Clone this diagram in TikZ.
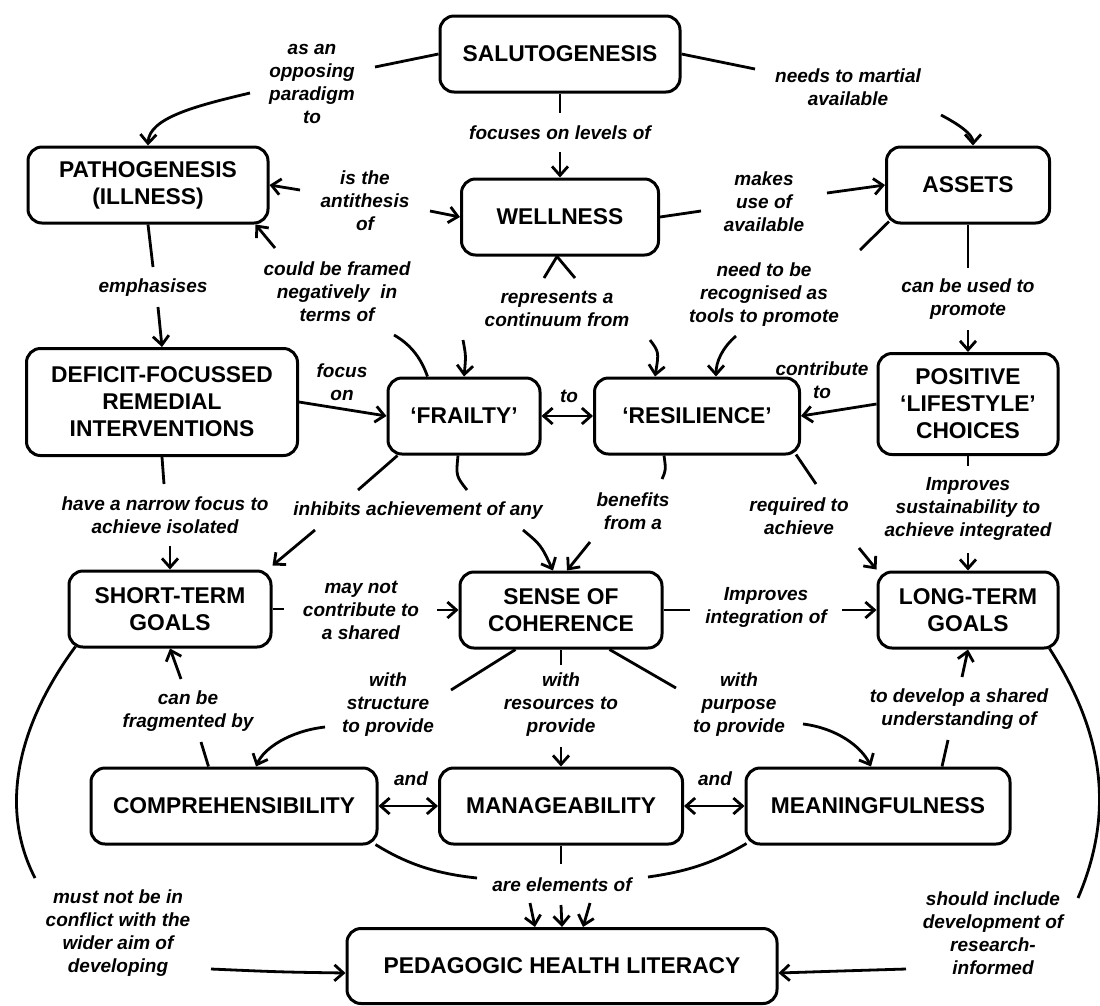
\documentclass[tikz,border=0pt]{standalone}
\usepackage{fontspec}
\setmainfont{Liberation Sans}
\usetikzlibrary{arrows.meta}
\begin{document}
\begin{tikzpicture}[x=1pt,y=-1pt,
  box/.style={draw, line width=3pt, rounded corners=14pt, align=center, inner sep=0pt,
    font=\bfseries\fontsize{22.8}{27}\selectfont, minimum height=76pt},
  lab/.style={align=center, inner sep=0pt, font=\bfseries\itshape\fontsize{19}{23}\selectfont},
  con/.style={line width=2.8pt},
  arr/.style={con, -{Straight Barb[length=9pt,width=16pt]}},
  darr/.style={con, {Straight Barb[length=9pt,width=16pt]}-{Straight Barb[length=9pt,width=16pt]}}
]
\useasboundingbox (0,0) rectangle (1100,1005);
% ---------- concept boxes ----------
\node[box, minimum width=240pt] (sal) at (560,54) {SALUTOGENESIS};
\node[box, minimum width=240pt] (pat) at (148,185) {PATHOGENESIS\\(ILLNESS)};
\node[box, minimum width=197pt] (wel) at (560,217) {WELLNESS};
\node[box, minimum width=163pt] (ass) at (968,185) {ASSETS};
\node[box, minimum width=271pt, minimum height=107pt] (def) at (162,402) {DEFICIT-FOCUSSED\\REMEDIAL\\INTERVENTIONS};
\node[box, minimum width=152pt] (fra) at (464,416) {‘FRAILTY’};
\node[box, minimum width=205pt] (res) at (697,416) {‘RESILIENCE’};
\node[box, minimum width=180pt, minimum height=101pt] (pos) at (968,404) {POSITIVE\\‘LIFESTYLE’\\CHOICES};
\node[box, minimum width=202pt] (sho) at (170,609) {SHORT-TERM\\GOALS};
\node[box, minimum width=202pt] (soc) at (561,610) {SENSE OF\\COHERENCE};
\node[box, minimum width=180pt] (lon) at (968,610) {LONG-TERM\\GOALS};
\node[box, minimum width=286pt] (com) at (234,806) {COMPREHENSIBILITY};
\node[box, minimum width=243pt] (man) at (561,806) {MANAGEABILITY};
\node[box, minimum width=264pt] (mea) at (878,806) {MEANINGFULNESS};
\node[box, minimum width=430pt, minimum height=75pt] (ped) at (562,966) {PEDAGOGIC HEALTH LITERACY};
% ---------- link labels ----------
\node[lab] (l1) at (312,84) {as an\\opposing\\paradigm\\to};
\node[lab] (l2) at (848,87) {needs to martial\\available};
\node[lab] (l3) at (560,133) {focuses on levels of};
\node[lab] (l4) at (365,201) {is the\\antithesis\\of};
\node[lab] (l5) at (764,202) {makes\\use of\\available};
\node[lab] (l6) at (153,288) {emphasises};
\node[lab] (l7) at (337,292) {could be framed\\negatively~~in\\terms of};
\node[lab] (l8) at (557,309) {represents a\\continuum from};
\node[lab] (l9) at (764,295) {need to be\\recognised as\\tools to promote};
\node[lab] (l10) at (968,299) {can be used to\\promote};
\node[lab] (l11) at (342,382) {focus\\on};
\node[lab] (l12) at (569,396) {to};
\node[lab] (l13) at (822,380) {contribute\\to};
\node[lab] (l14) at (165,515) {have a narrow focus to\\achieve isolated};
\node[lab] (l15) at (418,511) {inhibits achievement of any};
\node[lab] (l16) at (633,511) {benefits\\from a};
\node[lab] (l17) at (799,516) {required to\\achieve};
\node[lab] (l18) at (968,509) {Improves\\sustainability to\\achieve integrated};
\node[lab] (l19) at (361,610) {may not\\contribute to\\a shared};
\node[lab] (l20) at (766,607) {Improves\\integration of};
\node[lab] (l21) at (188,711) {can be\\fragmented by};
\node[lab] (l22) at (388,705) {with\\structure\\to provide};
\node[lab] (l23) at (561,705) {with\\resources to\\provide};
\node[lab] (l24) at (739,705) {with\\purpose\\to provide};
\node[lab] (l25) at (959,709) {to develop a shared\\understanding of};
\node[lab] (l26) at (411,779) {and};
\node[lab] (l27) at (715,779) {and};
\node[lab] (l28) at (562,885) {are elements of};
\node[lab] (l29) at (118,933) {must not be in\\conflict with the\\wider aim of\\developing};
\node[lab] (l30) at (993,933) {should include\\development of\\research-\\informed};
% ---------- free ends of connectors ----------
\coordinate (e1a) at (375,67);   \coordinate (e1b) at (250,93);
\coordinate (e2a) at (755,69);   \coordinate (e2b) at (941,115);
\coordinate (e3a) at (560,113);  \coordinate (e3b) at (560,152);
\coordinate (e4a) at (300,190);  \coordinate (e4b) at (430,211);
\coordinate (e5a) at (701,211);  \coordinate (e5b) at (827,193);
\coordinate (e6a) at (153,267);  \coordinate (e6b) at (158,307);
\coordinate (e7a) at (394,335);  \coordinate (e7b) at (275,248);
\coordinate (e8a) at (544,278);  \coordinate (e8b) at (575,278);
\coordinate (e8c) at (463,340);  \coordinate (e8d) at (650,340);
\coordinate (e9a) at (860,250);  \coordinate (e9b) at (736,336);
\coordinate (e10a) at (968,268); \coordinate (e10b) at (968,330);
\coordinate (e14a) at (164,484); \coordinate (e14b) at (170,546);
\coordinate (e15a) at (358,490); \coordinate (e15b) at (467,490);
\coordinate (e15c) at (315,530); \coordinate (e15d) at (523,530);
\coordinate (e16a) at (662,479); \coordinate (e16b) at (590,542);
\coordinate (e17a) at (816,484); \coordinate (e17b) at (859,548);
\coordinate (e18a) at (968,466); \coordinate (e18b) at (968,553);
\coordinate (e19a) at (284,609); \coordinate (e19b) at (437,610);
\coordinate (e20a) at (690,610); \coordinate (e20b) at (842,610);
\coordinate (e21a) at (201,742); \coordinate (e21b) at (181,679);
\coordinate (e22a) at (451,690); \coordinate (e22b) at (325,727);
\coordinate (e23a) at (561,665); \coordinate (e23b) at (561,747);
\coordinate (e24a) at (676,688); \coordinate (e24b) at (803,724);
\coordinate (e25a) at (948,740); \coordinate (e25b) at (962,677);
\coordinate (e28a) at (477,878); \coordinate (e28b) at (648,877);
\coordinate (e28c) at (561,864);
\coordinate (e28d) at (530,903); \coordinate (e28e) at (561,905); \coordinate (e28f) at (590,903);
\coordinate (e29a) at (35,878);  \coordinate (e29b) at (211,969);
\coordinate (e30a) at (1078,898); \coordinate (e30b) at (906,969);
% ---------- connectors ----------
% salutogenesis -> pathogenesis
\draw[con] (sal.west) -- (e1a);
\draw[arr] (e1b) .. controls (195,106) and (149,118) .. (pat.north);
% salutogenesis -> assets
\draw[con] (sal.east) -- (e2a);
\draw[arr] (e2b) .. controls (958,124) and (973,134) .. ([xshift=5pt]ass.north);
% salutogenesis -> wellness
\draw[con] (sal.south) -- (e3a);
\draw[arr] (e3b) -- (wel.north);
% wellness antithesis pathogenesis
\draw[arr] (e4a) -- (pat.east);
\draw[arr] (e4b) -- (wel.west);
% wellness -> assets
\draw[con] (wel.east) -- (e5a);
\draw[arr] (e5b) -- (ass.west);
% pathogenesis -> deficit
\draw[con] (pat.south) -- (e6a);
\draw[arr] (e6b) -- (def.north);
% frailty -> pathogenesis
\draw[con] ([xshift=41pt]fra.north west) .. controls (420,355) and (408,343) .. (e7a);
\draw[arr] (e7b) -- ([xshift=-14pt]pat.south east);
% wellness -> frailty / resilience
\draw[con] ([xshift=-3pt]wel.south) -- (e8a);
\draw[con] ([xshift=-3pt]wel.south) -- (e8b);
\draw[arr] (e8c) .. controls (466,356) .. (fra.north);
\draw[arr] (e8d) .. controls (659,352) .. ([xshift=-42pt]res.north);
% assets -> resilience
\draw[con] ([xshift=4pt,yshift=3pt]ass.south west) -- (e9a);
\draw[arr] (e9b) .. controls (722,348) and (716,362) .. ([xshift=-85pt]res.north east);
% assets -> positive
\draw[con] (ass.south) -- (e10a);
\draw[arr] (e10b) -- (pos.north);
% deficit -> frailty
\draw[arr] (def.east) -- (fra.west);
% frailty <-> resilience
\draw[darr] (fra.east) -- (res.west);
% positive -> resilience
\draw[arr] (pos.west) -- (res.east);
% deficit -> short-term
\draw[con] (def.south) -- (e14a);
\draw[arr] (e14b) -- (sho.north);
% frailty -> short-term / sense
\draw[con] ([xshift=11pt]fra.south west) -- (e15a);
\draw[con] ([xshift=-6pt]fra.south) .. controls (456,476) .. (e15b);
\draw[arr] (e15c) -- ([yshift=4pt]sho.north east);
\draw[arr] (e15d) .. controls (541,545) .. ([xshift=-8pt]soc.north);
% resilience -> sense
\draw[con] ([xshift=-33pt]res.south) .. controls (666,470) .. (e16a);
\draw[arr] (e16b) -- ([xshift=6pt]soc.north);
% resilience -> long-term
\draw[con] ([xshift=-5pt,yshift=1pt]res.south east) -- (e17a);
\draw[arr] (e17b) -- ([yshift=1pt]lon.north west);
% positive -> long-term
\draw[con] (pos.south) -- (e18a);
\draw[arr] (e18b) -- (lon.north);
% short-term -> sense
\draw[con] (sho.east) -- (e19a);
\draw[arr] (e19b) -- (soc.west);
% sense -> long-term
\draw[con] (soc.east) -- (e20a);
\draw[arr] (e20b) -- (lon.west);
% comprehensibility -> short-term
\draw[con] ([xshift=119pt]com.north west) -- (e21a);
\draw[arr] (e21b) -- (sho.south);
% sense -> comprehensibility
\draw[con] ([xshift=57pt]soc.south west) -- (e22a);
\draw[arr] (e22b) .. controls (290,731) and (264,748) .. ([xshift=22pt]com.north);
% sense -> manageability
\draw[con] (soc.south) -- (e23a);
\draw[arr] (e23b) -- (man.north);
% sense -> meaningfulness
\draw[con] ([xshift=-54pt]soc.south east) -- (e24a);
\draw[arr] (e24b) .. controls (836,728) and (861,746) .. ([xshift=-7pt]mea.north);
% and
\draw[darr] (com.east) -- (man.west);
\draw[darr] (man.east) -- (mea.west);
% meaningfulness -> long-term
\draw[con] ([xshift=64pt]mea.north) -- (e25a);
\draw[arr] (e25b) -- (lon.south);
% elements of pedagogic health literacy
\draw[con] ([xshift=-3pt,yshift=1pt]com.south east) .. controls (410,866) and (440,874) .. (e28a);
\draw[con] ([xshift=2pt,yshift=2pt]mea.south west) .. controls (715,862) and (690,871) .. (e28b);
\draw[con] (man.south) -- (e28c);
\draw[arr] (e28d) -- ([xshift=-27pt]ped.north);
\draw[arr] (e28e) -- (ped.north);
\draw[arr] (e28f) -- ([xshift=21pt]ped.north);
% short-term -> pedagogic
\draw[con] ([xshift=8pt,yshift=2pt]sho.south west) .. controls (25,715) and (-5,800) .. (e29a);
\draw[arr] (e29b) .. controls (280,972) .. ([yshift=-7pt]ped.west);
% long-term -> pedagogic
\draw[con] ([xshift=-10pt,yshift=1pt]lon.south east) .. controls (1095,720) and (1120,800) .. (e30a);
\draw[arr] (e30b) .. controls (840,971) .. ([yshift=-7pt]ped.east);
\end{tikzpicture}
\end{document}
